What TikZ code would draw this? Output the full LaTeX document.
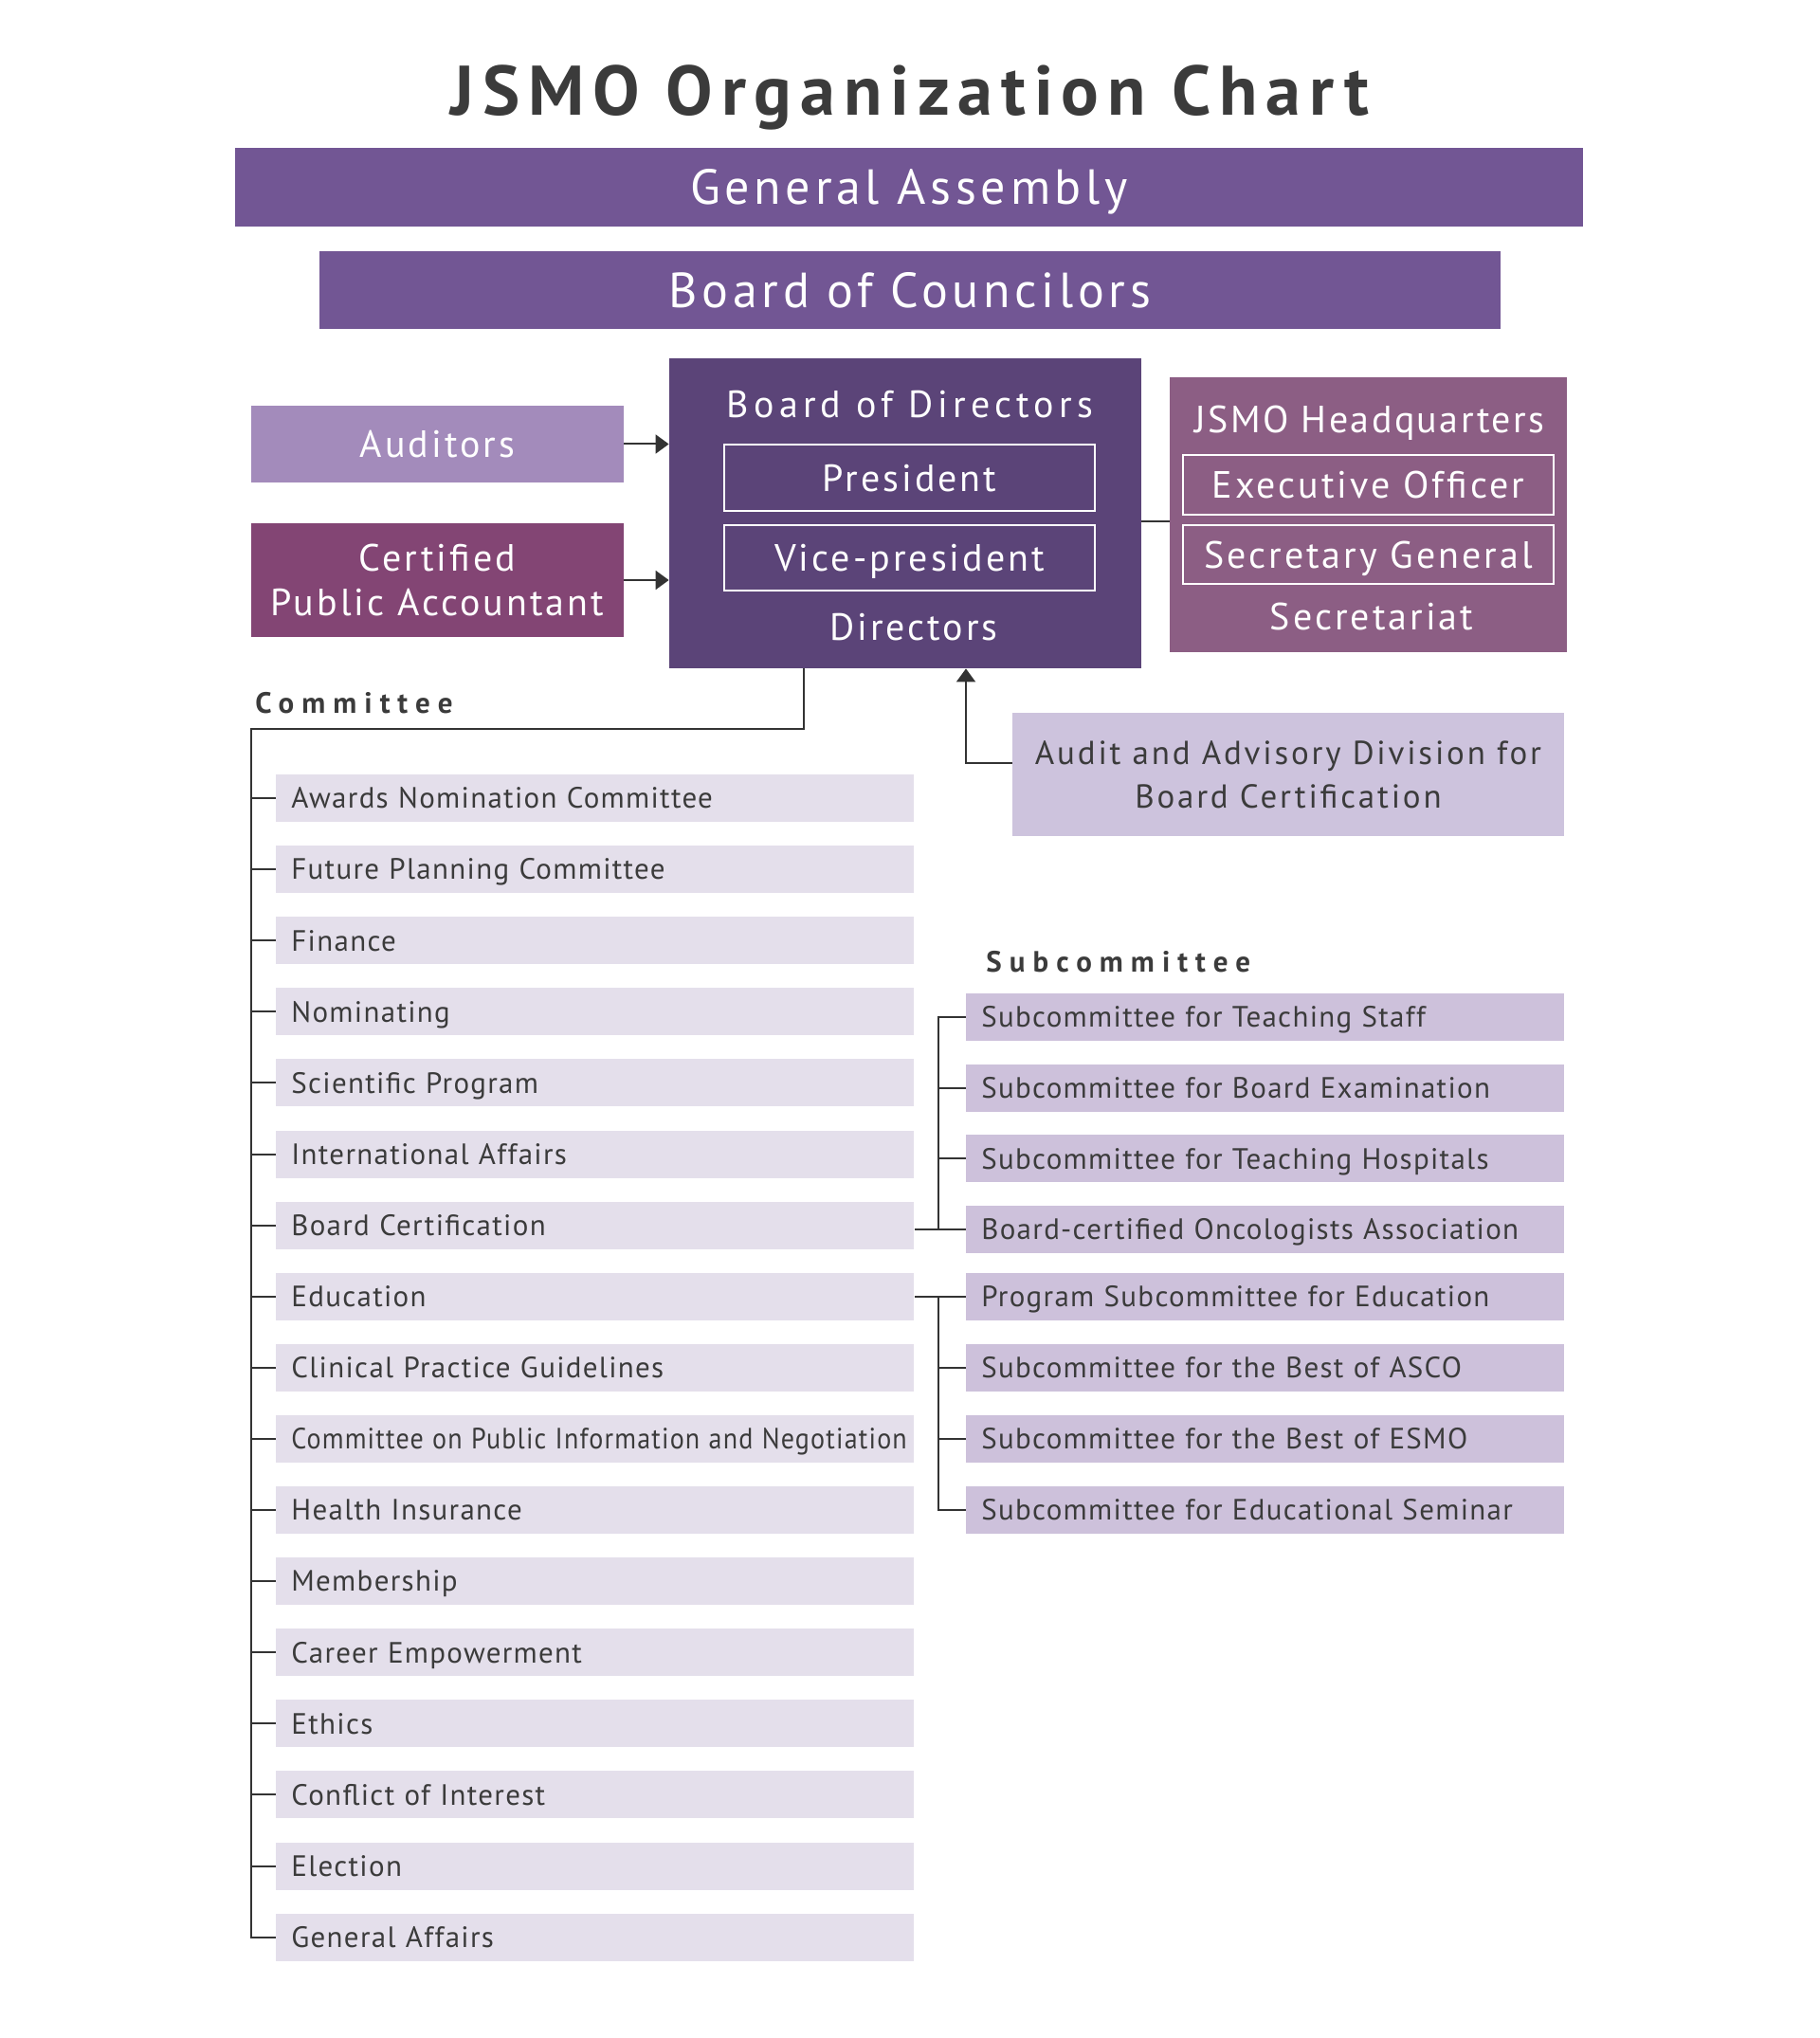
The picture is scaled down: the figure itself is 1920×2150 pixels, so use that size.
\documentclass[tikz,border=0pt]{standalone}
\usepackage{fontspec}
\usepackage{graphicx}
\setmainfont{PT Sans}
\newfontfamily\bigf[LetterSpace=9]{PT Sans}
\newfontfamily\midf[LetterSpace=7.5]{PT Sans}
\newfontfamily\hqf[LetterSpace=6]{PT Sans}
\newfontfamily\bodf[LetterSpace=13]{PT Sans}
\newfontfamily\advf[LetterSpace=8]{PT Sans}
\newfontfamily\smallf[LetterSpace=4.2]{PT Sans}
\newfontfamily\titlef[LetterSpace=12]{PT Sans Bold}
\newfontfamily\labf[LetterSpace=26]{PT Sans Bold}
\usetikzlibrary{arrows.meta,calc}
\definecolor{gacol}{HTML}{725694}
\definecolor{bodcol}{HTML}{5B4478}
\definecolor{audcol}{HTML}{A38BBB}
\definecolor{cpacol}{HTML}{834574}
\definecolor{hqcol}{HTML}{8C5E84}
\definecolor{advcol}{HTML}{CDC3DD}
\definecolor{comcol}{HTML}{E4DFEB}
\definecolor{subcol}{HTML}{CDC1DB}
\definecolor{txtcol}{HTML}{3B3B3B}
\definecolor{lncol}{HTML}{333333}
\begin{document}
\begin{tikzpicture}[x=0.5pt,y=-0.5pt,
  solid box/.style={rectangle, inner sep=0pt, text=white, align=center},
  big/.style={font=\bigf\fontsize{26pt}{30pt}\selectfont, text height=18.2pt, text depth=0pt},
  mid/.style={font=\midf\fontsize{20pt}{24pt}\selectfont, text height=14pt, text depth=0pt},
  midml/.style={font=\midf\fontsize{20pt}{24pt}\selectfont},
  inbox/.style={rectangle, draw=white, line width=1pt, inner sep=0pt, minimum width=195.5pt, text=white, mid},
  cbox/.style={rectangle, fill=comcol, inner xsep=8pt, inner ysep=0pt, minimum width=336.5pt, minimum height=25pt, text width=320.5pt, align=left, anchor=west, text=txtcol, font=\smallf\fontsize{15.5pt}{18pt}\selectfont, text height=10.8pt, text depth=0pt},
  sbox/.style={cbox, fill=subcol, minimum width=315.5pt, text width=299.5pt},
  line/.style={draw=lncol, line width=1pt},
  arr/.style={line, -{Triangle[length=7pt,width=10pt]}},
  seclabel/.style={anchor=west, inner sep=0pt, text=txtcol, font=\labf\fontsize{15.5pt}{18pt}\selectfont, text height=10.8pt, text depth=0pt}]
\useasboundingbox (0,0) rectangle (1920,2150);

% title
\node[inner sep=0pt, text=txtcol, font=\titlef\fontsize{37pt}{40pt}\selectfont, text height=25.9pt, text depth=0pt] (title) at (960,96) {JSMO Organization Chart};

% top bars
\node[solid box, fill=gacol, minimum width=711pt, minimum height=41.5pt, big] (ga) at (959,197.5) {General Assembly};
\node[solid box, fill=gacol, minimum width=623pt, minimum height=41pt, big] (boc) at (960,306) {Board of Councilors};

% board of directors
\node[solid box, fill=bodcol, minimum width=249pt, minimum height=163.5pt] (bod) at (955,541.5) {};
\node[inner sep=0pt, text=white, mid, font=\bodf\fontsize{20pt}{24pt}\selectfont] (bodt) at (960,427) {Board of Directors};
\node[inbox, minimum height=35pt] (pres) at (959.5,504) {President};
\node[inbox, minimum height=34.5pt] (vp) at (959.5,588.5) {Vice-president};
\node[inner sep=0pt, text=white, mid] (dirs) at (964,661) {Directors};

% auditors and CPA
\node[solid box, fill=audcol, minimum width=196.5pt, minimum height=40.5pt, mid] (aud) at (461.5,468.5) {Auditors};
\node[solid box, fill=cpacol, minimum width=196.5pt, minimum height=60pt, midml] (cpa) at (461.5,612) {Certified\\[-0.5pt]Public Accountant};

% headquarters
\node[solid box, fill=hqcol, minimum width=209.5pt, minimum height=145pt] (hq) at (1443.5,543) {};
\node[inner sep=0pt, text=white, mid, font=\hqf\fontsize{20pt}{24pt}\selectfont] (hqt) at (1445,443) {JSMO Headquarters};
\node[inbox, minimum height=31.5pt] (eo) at (1443.5,511.5) {Executive Officer};
\node[inbox, minimum height=31pt] (sg) at (1443.5,585) {Secretary General};
\node[inner sep=0pt, text=white, mid] (sect) at (1447,650) {Secretariat};

% audit and advisory division
\node[solid box, fill=advcol, minimum width=291pt, minimum height=65pt, text=txtcol, font=\advf\fontsize{17.5pt}{23pt}\selectfont] (adv) at (1359,817) {Audit and Advisory Division for\\Board Certification};

% connectors top
\draw[arr] (aud.east) -- (aud.east -| bod.west);
\draw[arr] (cpa.east) -- (cpa.east -| bod.west);
\coordinate (hw) at ([yshift=-3.5pt]hq.west);
\draw[line] (hw) -- (hw -| bod.east);
\coordinate (aw) at ([yshift=6pt]adv.west);
\coordinate (ax) at (1019,0);
\draw[arr] (aw) -- (aw -| ax) -- (ax |- bod.south);

% section labels
\node[seclabel] (comlab) at (269,742) {Committee};
\node[seclabel] (sublab) at (1040,1015) {Subcommittee};

% committees
\foreach \t [count=\i] in {Awards Nomination Committee, Future Planning Committee, Finance, Nominating, Scientific Program, International Affairs, Board Certification, Education, Clinical Practice Guidelines, {\scalebox{0.905}[1]{Committee on Public Information and Negotiation}}, Health Insurance, Membership, Career Empowerment, Ethics, Conflict of Interest, Election, General Affairs}
  \node[cbox] (c\i) at (291,{842+75.1*(\i-1)}) {\mbox{\t}};

% subcommittees
\foreach \t [count=\i] in {Subcommittee for Teaching Staff, Subcommittee for Board Examination, Subcommittee for Teaching Hospitals, Board-certified Oncologists Association}
  \node[sbox] (s\i) at (1019,{1073+74.7*(\i-1)}) {\mbox{\t}};
\foreach \t [count=\i from 5] in {Program Subcommittee for Education, Subcommittee for the Best of ASCO, Subcommittee for the Best of ESMO, Subcommittee for Educational Seminar}
  \node[sbox] (s\i) at (1019,{842+75.1*(\i+2)}) {\mbox{\t}};

% committee tree
\coordinate (drop) at (848,769);
\coordinate (corner) at (265,769);
\draw[line] (drop |- bod.south) -- (drop) -- (corner) |- (c17.west);
\foreach \i in {1,...,16}
  \draw[line] (c\i.west) -- (c\i.west -| corner);

% subcommittee trees
\coordinate (tx) at (990,0);
\draw[line] (c7.east |- s4.west) -- (s4.west);
\draw[line] (s1.west) -| (tx |- s4.west);
\foreach \i in {2,3}
  \draw[line] (s\i.west) -- (s\i.west -| tx);
\draw[line] (c8.east |- s5.west) -- (s5.west);
\draw[line] (s8.west) -| (tx |- s5.west);
\foreach \i in {6,7}
  \draw[line] (s\i.west) -- (s\i.west -| tx);
\end{tikzpicture}
\end{document}
